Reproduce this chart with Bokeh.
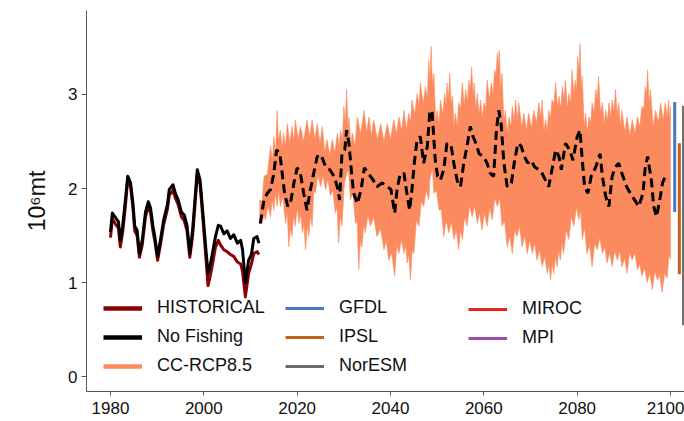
from bokeh.plotting import figure
from bokeh.models import Legend, LegendItem, FixedTicker, Range1d
from bokeh.embed import file_html
from bokeh.resources import INLINE

# ---------------- data ----------------
x_ticks = [1980, 2000, 2020, 2040, 2060, 2080, 2100]
y_ticks = [0, 1, 2, 3]

nf_years = [1980.0, 1980.4, 1981.1, 1981.7, 1982.1, 1982.6, 1983.2, 1983.7, 1984.3, 1984.8,
            1985.2, 1985.7, 1986.2, 1986.8, 1987.5, 1988.1, 1988.6, 1989.1, 1989.5, 1990.1,
            1990.7, 1991.4, 1992.2, 1992.6, 1993.4, 1993.9, 1994.5, 1995.2, 1995.8, 1996.4,
            1997.0, 1997.6, 1998.1, 1998.6, 1999.2, 1999.8, 2000.4, 2000.9, 2001.4, 2001.8,
            2002.5, 2003.1, 2003.6, 2004.3, 2005.0, 2005.7, 2006.4, 2007.2, 2007.9, 2008.3,
            2008.9, 2009.6, 2010.2, 2010.7, 2011.4, 2011.8]
no_fishing = [1.54, 1.74, 1.69, 1.65, 1.45, 1.60, 1.88, 2.13, 2.06, 1.85,
              1.60, 1.56, 1.31, 1.45, 1.75, 1.86, 1.79, 1.60, 1.49, 1.28,
              1.45, 1.67, 1.83, 1.99, 2.04, 1.95, 1.88, 1.75, 1.72, 1.61,
              1.31, 1.56, 1.88, 2.20, 2.09, 1.74, 1.38, 1.10, 1.20, 1.30,
              1.49, 1.61, 1.60, 1.52, 1.55, 1.47, 1.51, 1.42, 1.45, 1.35,
              1.00, 1.24, 1.30, 1.47, 1.49, 1.42]
historical = [1.48, 1.68, 1.62, 1.58, 1.38, 1.53, 1.82, 2.10, 2.02, 1.80,
              1.55, 1.50, 1.27, 1.40, 1.70, 1.82, 1.74, 1.55, 1.44, 1.24,
              1.40, 1.62, 1.78, 1.93, 1.98, 1.90, 1.83, 1.70, 1.66, 1.55,
              1.27, 1.50, 1.82, 2.15, 2.04, 1.68, 1.30, 0.97, 1.08, 1.18,
              1.38, 1.45, 1.40, 1.35, 1.33, 1.30, 1.28, 1.22, 1.20, 1.12,
              0.85, 1.10, 1.20, 1.31, 1.33, 1.30]

# CC-RCP8.5 envelope: upper edge peaks ...
rcp_up_years = [2012.0, 2012.9, 2014.3, 2015.0, 2015.7, 2016.4, 2017.1, 2017.9, 2018.9, 2019.6,
                2020.7, 2022.1, 2023.2, 2024.3, 2025.4, 2026.4, 2027.5, 2028.6, 2029.3, 2030.0,
                2030.6, 2031.1, 2031.8, 2032.9, 2034.3, 2035.4, 2036.4, 2037.9, 2039.3, 2040.7,
                2041.8, 2042.9, 2043.9, 2044.6, 2045.7, 2046.4, 2047.5, 2048.2, 2048.7, 2049.3,
                2050.0, 2050.7, 2051.6, 2052.1, 2052.7, 2053.3, 2053.9, 2054.6, 2055.4, 2056.1,
                2056.8, 2057.4, 2057.9, 2058.6, 2059.3, 2060.0, 2060.7, 2061.6, 2062.3, 2062.9,
                2063.3, 2063.9, 2064.6, 2065.4, 2066.1, 2066.8, 2067.5, 2068.6, 2069.6, 2070.7,
                2071.8, 2072.5, 2073.2, 2073.9, 2074.6, 2075.4, 2076.1, 2076.8, 2077.5, 2078.2,
                2078.9, 2079.6, 2080.1, 2080.6, 2081.1, 2081.8, 2082.5, 2083.2, 2084.0, 2084.6,
                2085.4, 2086.1, 2086.8, 2087.5, 2088.2, 2088.9, 2089.6, 2090.7, 2091.8, 2092.9,
                2093.9, 2094.6, 2095.1, 2095.7, 2096.8, 2097.9, 2098.9, 2099.6, 2100.0]
rcp_upper = [1.88, 2.13, 2.45, 2.55, 2.83, 2.62, 2.59, 2.69, 2.66, 2.73,
             2.66, 2.73, 2.73, 2.69, 2.66, 2.52, 2.52, 2.59, 2.62, 2.87,
             3.05, 2.76, 2.59, 2.76, 2.83, 2.76, 2.73, 2.69, 2.69, 2.73,
             2.76, 2.83, 2.80, 2.94, 3.01, 3.12, 3.08, 3.37, 3.51, 3.22,
             2.83, 2.94, 3.01, 3.12, 3.22, 2.98, 2.80, 2.91, 3.12, 3.05,
             3.15, 3.29, 3.12, 3.01, 2.94, 2.91, 3.15, 3.12, 3.26, 3.44,
             3.47, 3.22, 2.83, 2.76, 2.87, 2.94, 2.91, 2.80, 2.80, 2.83,
             2.91, 2.94, 2.73, 2.83, 2.94, 3.12, 2.98, 3.08, 3.15, 3.01,
             3.26, 3.15, 3.40, 3.54, 3.19, 2.80, 2.76, 2.91, 3.05, 3.19,
             2.91, 2.83, 2.91, 2.94, 3.05, 2.91, 2.83, 2.76, 2.73, 2.76,
             2.87, 3.08, 3.26, 3.05, 2.83, 2.91, 2.91, 2.94, 2.87]
# ... and the dips between those peaks
rcp_up_dip_years = [2012.5, 2013.6, 2014.7, 2015.4, 2016.0, 2016.8, 2017.5, 2018.4, 2019.3, 2020.2,
                    2021.4, 2022.7, 2023.8, 2024.9, 2025.9, 2027.0, 2028.1, 2029.0, 2029.7, 2030.3,
                    2030.9, 2031.5, 2032.4, 2033.6, 2034.9, 2035.9, 2037.2, 2038.6, 2040.0, 2041.3,
                    2042.4, 2043.4, 2044.3, 2045.2, 2046.1, 2047.0, 2047.9, 2048.45, 2049.0, 2049.7,
                    2050.4, 2051.2, 2051.9, 2052.4, 2053.0, 2053.6, 2054.3, 2055.0, 2055.8, 2056.5,
                    2057.1, 2057.7, 2058.3, 2059.0, 2059.7, 2060.4, 2061.2, 2062.0, 2062.6, 2063.1,
                    2063.6, 2064.3, 2065.0, 2065.8, 2066.5, 2067.2, 2068.1, 2069.1, 2070.2, 2071.3,
                    2072.2, 2072.9, 2073.6, 2074.3, 2075.0, 2075.8, 2076.5, 2077.2, 2077.9, 2078.6,
                    2079.3, 2079.9, 2080.4, 2080.9, 2081.5, 2082.2, 2082.9, 2083.6, 2084.3, 2085.0,
                    2085.8, 2086.5, 2087.2, 2087.9, 2088.6, 2089.3, 2090.2, 2091.3, 2092.4, 2093.4,
                    2094.3, 2094.9, 2095.4, 2096.3, 2097.4, 2098.4, 2099.3, 2099.8]
rcp_up_dips = [1.86, 2.15, 2.30, 2.38, 2.50, 2.42, 2.45, 2.48, 2.50, 2.52,
               2.50, 2.55, 2.52, 2.48, 2.38, 2.35, 2.38, 2.44, 2.50, 2.70,
               2.62, 2.45, 2.45, 2.58, 2.60, 2.56, 2.52, 2.50, 2.52, 2.58,
               2.62, 2.62, 2.70, 2.78, 2.88, 2.90, 2.95, 3.15, 3.10, 2.70,
               2.68, 2.78, 2.88, 2.95, 2.90, 2.66, 2.66, 2.85, 2.88, 2.92,
               3.05, 2.98, 2.85, 2.78, 2.75, 2.85, 2.95, 3.00, 3.20, 3.30,
               3.05, 2.70, 2.60, 2.65, 2.72, 2.74, 2.65, 2.62, 2.64, 2.70,
               2.76, 2.60, 2.62, 2.75, 2.90, 2.85, 2.85, 2.95, 2.85, 2.90,
               3.00, 3.05, 3.25, 3.05, 2.66, 2.60, 2.70, 2.80, 2.95, 2.80,
               2.68, 2.72, 2.76, 2.82, 2.78, 2.66, 2.60, 2.56, 2.58, 2.66,
               2.85, 3.02, 2.90, 2.65, 2.70, 2.72, 2.76, 2.72]

# lower edge troughs ...
rcp_low_years = [2012.0, 2012.5, 2013.2, 2014.3, 2015.0, 2015.7, 2016.4, 2017.5, 2018.2, 2018.9,
                 2019.6, 2020.4, 2021.1, 2021.8, 2022.5, 2023.2, 2023.9, 2025.0, 2026.1, 2027.1,
                 2028.2, 2028.9, 2029.6, 2030.6, 2031.4, 2032.5, 2033.2, 2033.9, 2034.6, 2035.7,
                 2037.1, 2038.6, 2039.6, 2040.9, 2041.8, 2042.9, 2043.6, 2044.3, 2045.0, 2046.1,
                 2047.1, 2048.2, 2048.7, 2049.3, 2050.4, 2051.4, 2052.5, 2053.6, 2054.6, 2055.4,
                 2056.4, 2057.5, 2058.6, 2059.6, 2060.7, 2061.8, 2062.9, 2063.9, 2065.0, 2066.1,
                 2067.1, 2068.2, 2069.3, 2070.4, 2071.4, 2072.5, 2073.6, 2074.3, 2075.0, 2075.7,
                 2076.4, 2077.1, 2078.2, 2079.3, 2080.4, 2081.1, 2082.1, 2083.2, 2084.3, 2085.4,
                 2086.4, 2087.5, 2088.6, 2089.6, 2090.7, 2091.8, 2092.9, 2093.9, 2095.0, 2096.1,
                 2097.2, 2098.2, 2099.3, 2100.0]
rcp_lower = [1.62, 1.63, 1.67, 1.70, 1.77, 1.81, 1.81, 1.63, 1.38, 1.49,
             1.60, 1.63, 1.53, 1.35, 1.49, 1.60, 1.95, 2.02, 1.99, 1.92,
             1.74, 1.42, 1.60, 2.16, 1.88, 1.63, 1.14, 1.38, 1.53, 1.60,
             1.49, 1.35, 1.24, 1.07, 1.31, 1.31, 1.21, 1.03, 1.31, 1.60,
             1.81, 1.88, 2.16, 1.95, 1.77, 1.49, 1.53, 1.46, 1.35, 1.46,
             1.60, 1.70, 1.63, 1.56, 1.60, 1.67, 1.81, 1.60, 1.38, 1.31,
             1.49, 1.38, 1.31, 1.31, 1.24, 1.17, 1.10, 1.03, 1.10, 1.17,
             1.24, 1.31, 1.46, 1.60, 1.67, 1.46, 1.31, 1.17, 1.35, 1.31,
             1.21, 1.17, 1.24, 1.17, 1.10, 1.24, 1.14, 1.07, 1.00, 0.93,
             1.03, 0.90, 1.05, 1.25]
# ... and the spikes between those troughs
rcp_low_spike_years = [2012.25, 2012.85, 2013.75, 2014.65, 2015.35, 2016.05, 2016.95, 2017.85, 2018.55, 2019.25,
                       2020.0, 2020.75, 2021.45, 2022.15, 2022.85, 2023.55, 2024.45, 2025.55, 2026.6, 2027.65,
                       2028.55, 2029.25, 2030.1, 2031.0, 2031.95, 2032.85, 2033.55, 2034.25, 2035.15, 2036.4,
                       2037.85, 2039.1, 2040.25, 2041.35, 2042.35, 2043.25, 2043.95, 2044.65, 2045.55, 2046.6,
                       2047.65, 2048.45, 2049.0, 2049.85, 2050.9, 2051.95, 2053.05, 2054.1, 2055.0, 2055.9,
                       2056.95, 2058.05, 2059.1, 2060.15, 2061.25, 2062.35, 2063.4, 2064.45, 2065.55, 2066.6,
                       2067.65, 2068.75, 2069.85, 2070.9, 2071.95, 2073.05, 2073.95, 2074.65, 2075.35, 2076.05,
                       2076.75, 2077.65, 2078.75, 2079.85, 2080.75, 2081.6, 2082.65, 2083.75, 2084.85, 2085.9,
                       2086.95, 2088.05, 2089.1, 2090.15, 2091.25, 2092.35, 2093.4, 2094.45, 2095.55, 2096.65,
                       2097.7, 2098.75, 2099.65]
rcp_low_spikes = [1.66, 1.72, 1.82, 1.88, 1.95, 1.98, 1.92, 1.76, 1.58, 1.72,
                  1.80, 1.74, 1.62, 1.60, 1.72, 1.98, 2.15, 2.14, 2.10, 1.98,
                  1.80, 1.72, 2.05, 2.20, 1.95, 1.66, 1.45, 1.62, 1.72, 1.70,
                  1.58, 1.45, 1.32, 1.40, 1.46, 1.40, 1.30, 1.36, 1.66, 1.86,
                  1.98, 2.10, 2.20, 1.98, 1.78, 1.66, 1.65, 1.56, 1.56, 1.70,
                  1.82, 1.82, 1.74, 1.74, 1.80, 1.90, 1.90, 1.66, 1.50, 1.56,
                  1.60, 1.50, 1.45, 1.42, 1.35, 1.28, 1.20, 1.20, 1.28, 1.35,
                  1.42, 1.56, 1.70, 1.80, 1.78, 1.58, 1.40, 1.42, 1.48, 1.38,
                  1.32, 1.34, 1.34, 1.26, 1.32, 1.32, 1.20, 1.16, 1.10, 1.12,
                  1.08, 1.10, 1.30]

rcp_mean_years = [2012.1, 2012.9, 2013.6, 2014.3, 2015.0, 2015.6, 2016.3, 2016.8, 2017.3, 2018.0,
                  2018.7, 2019.3, 2020.0, 2020.7, 2021.4, 2022.1, 2022.7, 2023.4, 2024.3, 2025.1,
                  2026.1, 2027.0, 2027.9, 2028.6, 2029.1, 2029.6, 2030.2, 2030.6, 2031.1, 2031.6,
                  2032.1, 2032.9, 2033.7, 2034.4, 2035.4, 2036.3, 2037.1, 2038.2, 2039.3, 2040.1,
                  2040.9, 2041.4, 2042.1, 2042.9, 2043.6, 2044.1, 2044.6, 2045.1, 2045.7, 2046.4,
                  2047.1, 2047.9, 2048.4, 2048.9, 2049.3, 2049.6, 2050.1, 2050.7, 2051.4, 2052.1,
                  2053.0, 2053.7, 2054.4, 2055.0, 2055.7, 2056.4, 2057.1, 2057.7, 2058.3, 2059.0,
                  2059.9, 2060.7, 2061.4, 2062.1, 2062.7, 2063.2, 2063.7, 2064.3, 2065.0, 2065.9,
                  2066.6, 2067.3, 2068.0, 2068.7, 2069.4, 2070.1, 2070.9, 2071.8, 2072.5, 2073.2,
                  2073.9, 2074.6, 2075.4, 2076.1, 2076.6, 2077.5, 2078.4, 2079.1, 2080.0, 2080.6,
                  2081.1, 2081.6, 2082.3, 2083.0, 2084.0, 2084.9, 2085.4, 2086.1, 2086.8, 2087.5,
                  2088.2, 2088.9, 2089.6, 2090.6, 2091.4, 2092.3, 2093.2, 2094.1, 2094.6, 2095.1,
                  2095.9, 2096.4, 2097.0, 2097.7, 2098.3, 2098.9, 2099.6]
rcp_mean = [1.63, 1.88, 1.95, 1.99, 2.16, 2.41, 2.37, 2.16, 1.95, 1.81,
            1.88, 2.06, 2.22, 2.16, 1.95, 1.77, 1.95, 2.13, 2.34, 2.36,
            2.23, 2.20, 2.13, 2.02, 1.88, 2.37, 2.41, 2.62, 2.48, 2.20,
            1.95, 1.84, 1.99, 2.22, 2.15, 2.09, 2.02, 2.06, 2.02, 1.99,
            1.74, 1.99, 2.16, 2.16, 1.92, 1.77, 1.99, 2.27, 2.52, 2.55,
            2.27, 2.45, 2.80, 2.83, 2.52, 2.30, 2.13, 2.09, 2.20, 2.48,
            2.45, 2.23, 2.06, 2.02, 2.27, 2.45, 2.66, 2.55, 2.48, 2.37,
            2.34, 2.27, 2.16, 2.13, 2.62, 2.83, 2.69, 2.27, 2.02, 2.06,
            2.30, 2.48, 2.45, 2.34, 2.27, 2.30, 2.23, 2.20, 2.16, 2.09,
            2.02, 2.20, 2.41, 2.34, 2.20, 2.48, 2.41, 2.30, 2.55, 2.62,
            2.30, 2.02, 1.95, 2.13, 2.23, 2.37, 2.13, 1.92, 1.81, 2.13,
            2.23, 2.27, 2.16, 2.02, 1.95, 1.88, 1.81, 1.95, 2.23, 2.34,
            2.09, 1.81, 1.70, 1.88, 2.06, 2.13, 2.13]

model_names = ["GFDL", "IPSL", "NorESM", "MIROC", "MPI"]
model_x = [2100.9, 2101.9, 2102.8, 2103.8, 2104.8]
model_low = [1.75, 1.09, 0.55, 1.00, 1.20]
model_high = [2.92, 2.48, 2.88, 2.60, 2.70]
model_colors = ["#4A78C2", "#C2601E", "#6B6B6B", "#E8221E", "#9A4FB0"]

# ---------------- styles ----------------
FONT = "Liberation Sans"
HIST_COLOR = "#8B0000"
NF_COLOR = "#000000"
RCP_COLOR = "#FB8B5E"

p = figure(width=684, height=421, output_backend="svg", toolbar_location=None,
           x_range=Range1d(1974.86, 2103.0), y_range=Range1d(-0.154, 3.89),
           min_border_left=86, min_border_right=0, min_border_top=10, min_border_bottom=30)
p.xgrid.visible = False
p.ygrid.visible = False
p.outline_line_color = None
p.background_fill_color = "white"
p.border_fill_color = "white"

# band (upper edge left->right, lower edge right->left)
up_pts = sorted(zip(rcp_up_years + rcp_up_dip_years, rcp_upper + rcp_up_dips))
low_pts = sorted(zip(rcp_low_years + rcp_low_spike_years, rcp_lower + rcp_low_spikes))
band_x = [t for t, _ in up_pts] + [t for t, _ in low_pts][::-1]
band_y = [v for _, v in up_pts] + [v for _, v in low_pts][::-1]
p.patch(band_x, band_y, fill_color=RCP_COLOR, line_color=RCP_COLOR, line_width=0.6)

# historical lines
p.line(nf_years, historical, line_color=HIST_COLOR, line_width=3, line_join="round")
p.line(nf_years, no_fishing, line_color=NF_COLOR, line_width=3, line_join="round")
# projection mean (dashed)
p.line(rcp_mean_years, rcp_mean, line_color=NF_COLOR, line_width=3, line_dash="9 5")

# model ranges at the right edge
seg = p.segment(x0=model_x, y0=model_low, x1=model_x, y1=model_high,
                line_color=model_colors, line_width=3)

# axes
for ax in (p.xaxis[0], p.yaxis[0]):
    ax.axis_line_color = "#555555"
    ax.major_tick_line_color = "#555555"
    ax.major_tick_out = 5
    ax.major_tick_in = 0
    ax.minor_tick_line_color = None
    ax.major_label_text_font = FONT
    ax.major_label_text_font_size = "17px"
    ax.major_label_text_color = "#111111"
p.xaxis.ticker = FixedTicker(ticks=x_ticks)
p.yaxis.ticker = FixedTicker(ticks=y_ticks)
p.xaxis.major_label_standoff = 6
p.xaxis.major_tick_out = 4
p.yaxis.major_label_standoff = 4
p.yaxis.axis_label = "10⁶mt"
p.yaxis.axis_label_text_font = FONT
p.yaxis.axis_label_text_font_style = "normal"
p.yaxis.axis_label_text_font_size = "23px"
p.yaxis.axis_label_text_color = "#111111"
p.yaxis.axis_label_standoff = 15

# legend proxies (hidden renderers that only provide the legend glyphs)
hist_proxy = p.line(nf_years, historical, line_color=HIST_COLOR, line_width=4.5, visible=False)
nf_proxy = p.line(nf_years, no_fishing, line_color=NF_COLOR, line_width=4.5, visible=False)
rcp_proxy = p.line(rcp_mean_years, rcp_mean, line_color=RCP_COLOR, line_width=4.5, visible=False)

cols = [
    [LegendItem(label="HISTORICAL", renderers=[hist_proxy]),
     LegendItem(label="No Fishing", renderers=[nf_proxy]),
     LegendItem(label="CC-RCP8.5", renderers=[rcp_proxy])],
    [LegendItem(label=model_names[i], renderers=[seg], index=i) for i in (0, 1, 2)],
    [LegendItem(label=model_names[i], renderers=[seg], index=i) for i in (3, 4)],
]
locs = [(17, 15), (199, 15), (382, 43)]
for items, loc in zip(cols, locs):
    leg = Legend(items=items, location=loc, orientation="vertical",
                 glyph_width=39, glyph_height=20, label_height=20, label_standoff=15,
                 spacing=8, padding=0, margin=0, border_line_color=None,
                 background_fill_alpha=0, inactive_fill_alpha=0, label_text_font=FONT,
                 label_text_font_size="18px", label_text_color="#111111")
    p.add_layout(leg, "center")

open("out.html", "w").write(file_html(p, INLINE))
